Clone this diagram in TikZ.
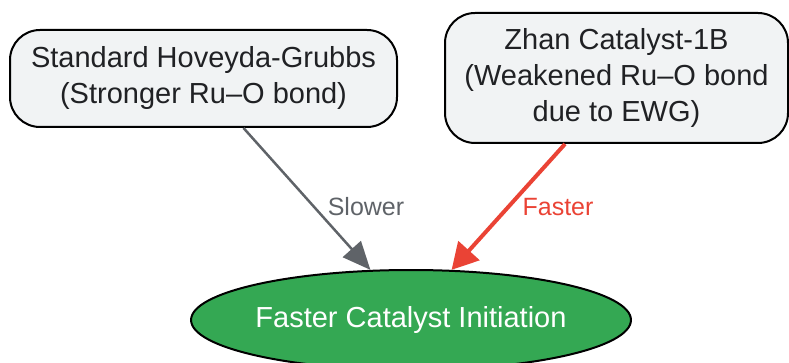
\documentclass[tikz,border=0pt]{standalone}
\usepackage{fontspec}
\setmainfont{Liberation Sans}
\usetikzlibrary{arrows.meta,shapes.geometric}
\definecolor{boxfill}{HTML}{F1F3F4}
\definecolor{txt}{HTML}{202124}
\definecolor{grayarrow}{HTML}{5F6368}
\definecolor{redarrow}{HTML}{EA4335}
\definecolor{greenfill}{HTML}{34A853}
\tikzset{
  srcbox/.style={draw=black, line width=2pt, fill=boxfill, rounded corners=30pt, align=center,
    text=txt, font=\fontsize{29}{36}\selectfont, inner sep=0pt},
  target/.style={ellipse, draw=black, line width=2pt, fill=greenfill, text=white,
    font=\fontsize{29}{36}\selectfont, inner sep=0pt},
  slowarrow/.style={draw=grayarrow, line width=2.5pt, -{Triangle[length=28pt,width=24pt]}},
  fastarrow/.style={draw=redarrow, line width=4pt, -{Triangle[length=26pt,width=28pt]}},
  lbl/.style={font=\fontsize{25}{30}\selectfont, inner sep=0pt}
}
\begin{document}
\begin{tikzpicture}[x=1pt,y=-1pt]
\useasboundingbox (0,0) rectangle (789,363);
\begin{scope}
\clip (0,0) rectangle (789,363);
\node[srcbox, minimum width=387pt, minimum height=97pt] (lb) at (203.5,78.5)
  {Standard Hoveyda-Grubbs\\(Stronger Ru–O bond)};
\node[srcbox, minimum width=343pt, minimum height=130pt] (rb) at (616.5,78)
  {Zhan Catalyst-1B\\(Weakened Ru–O bond\\due to EWG)};
\node[target, minimum width=438pt, minimum height=100pt] (el) at (411,320)
  {Faster Catalyst Initiation};
\draw[slowarrow] ([xshift=40pt]lb.south) -- (el.129);
\draw[fastarrow] ([xshift=-51.5pt]rb.south) -- (el.51);
\node[lbl, text=grayarrow] (slow) at (366,207) {Slower};
\node[lbl, text=redarrow] (fast) at (558,207) {Faster};
\end{scope}
\end{tikzpicture}
\end{document}
